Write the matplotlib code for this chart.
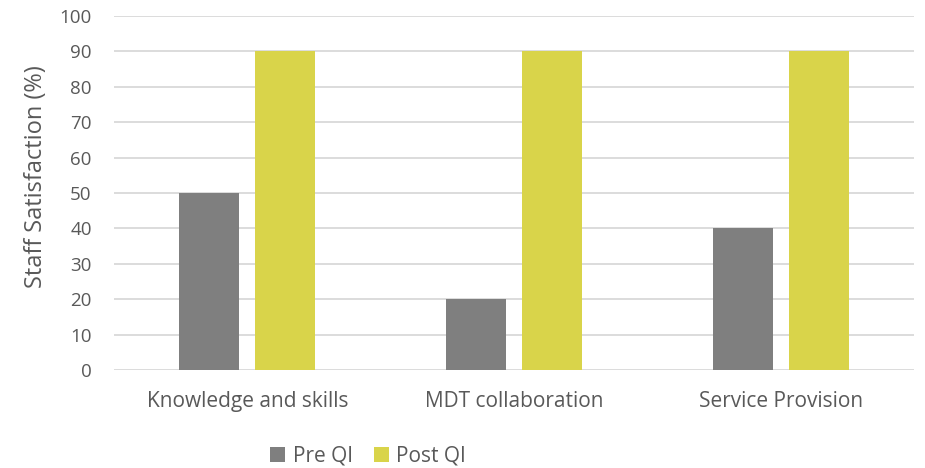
import numpy as np
import matplotlib
matplotlib.use("Agg")
import matplotlib.pyplot as plt

plt.rcParams['font.family'] = ['Open Sans', 'DejaVu Sans']

categories = ['Knowledge and skills', 'MDT collaboration', 'Service Provision']
pre_qi = [50, 20, 40]
post_qi = [90, 90, 90]
y_ticks = list(range(0, 101, 10))

text_col = '#595959'
fig = plt.figure(figsize=(9.25, 4.68), dpi=100)
ax = fig.add_axes([0.1232, 0.2094, 0.8648, 0.7564])

x = np.arange(len(categories))
w = 0.225
ax.bar(x - 0.1425, pre_qi, w, color='#7f7f7f', label='Pre QI', zorder=3)
ax.bar(x + 0.1425, post_qi, w, color='#d9d44a', label='Post QI', zorder=3)

ax.set_xlim(-0.5, 2.5)
ax.set_ylim(0, 100)
ax.set_yticks(y_ticks)
ax.set_xticks(x)
ax.set_xticklabels(categories)
ax.grid(axis='y', color='#d9d9d9', linewidth=1.3, zorder=0)
for s in ax.spines.values():
    s.set_visible(False)
ax.tick_params(length=0, colors=text_col, labelsize=15)
ax.tick_params(axis='y', pad=16, labelsize=13.5)
ax.tick_params(axis='x', pad=15)
ax.set_ylabel('Staff Satisfaction (%)', color=text_col, fontsize=17)
ax.yaxis.set_label_coords(-0.083, 0.545)

fig.legend(loc='center', bbox_to_anchor=(368 / 925, 1 - 456 / 468), ncol=2, frameon=False,
           fontsize=15, labelcolor=text_col, handlelength=0.75, handleheight=0.75,
           handletextpad=0.35, columnspacing=1.0)

fig.savefig('out.png', dpi=100)
